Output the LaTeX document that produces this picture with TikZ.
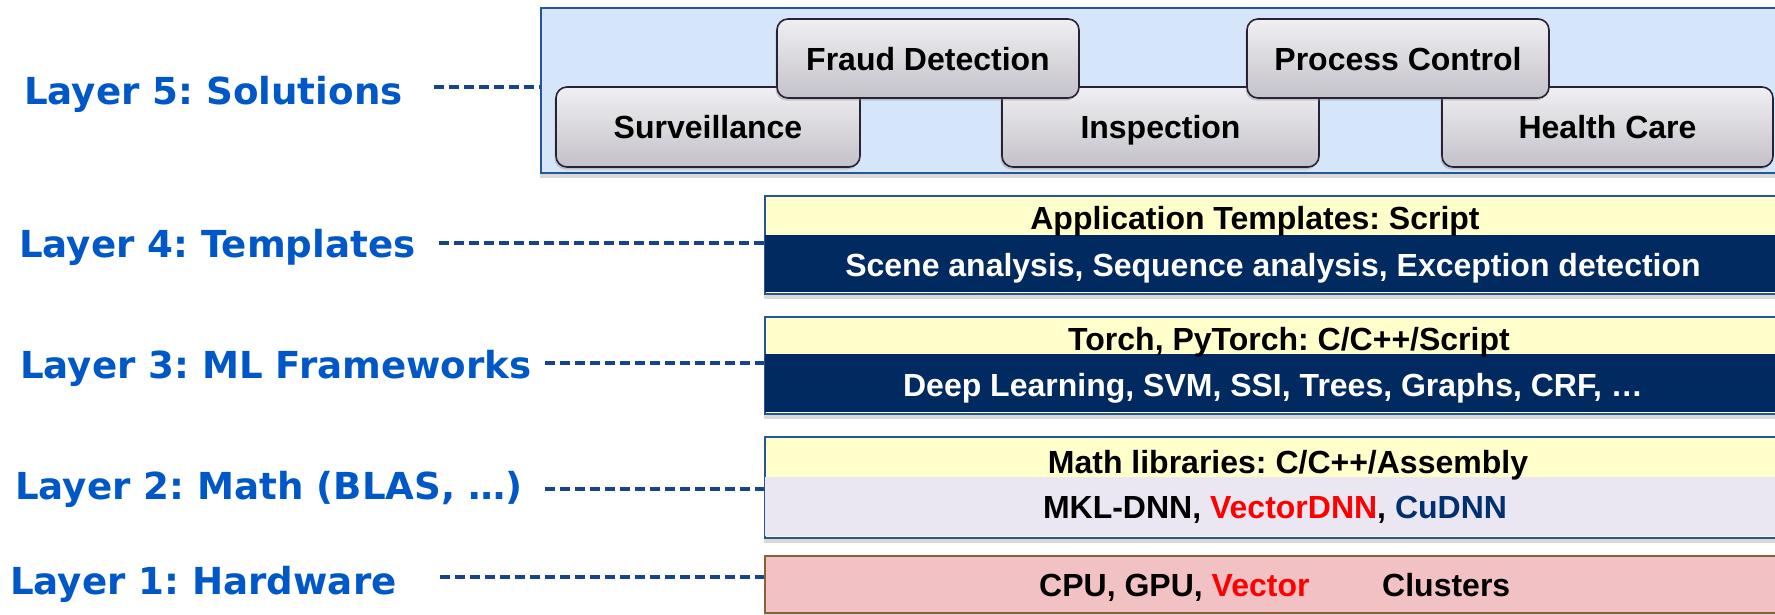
\documentclass[tikz,border=0pt]{standalone}
\usepackage{fontspec}
\setmainfont{Liberation Sans}
\newfontfamily\labfont{DejaVu Sans}
\usetikzlibrary{shadows}
\definecolor{labblue}{RGB}{0,88,200}
\definecolor{dashblue}{RGB}{22,68,140}
\definecolor{sollight}{RGB}{214,230,250}
\definecolor{solborder}{RGB}{43,33,52}
\definecolor{soltop}{RGB}{240,239,242}
\definecolor{solbot}{RGB}{196,194,201}
\definecolor{lyellow}{RGB}{255,255,204}
\definecolor{lnavy}{RGB}{0,42,96}
\definecolor{llav}{RGB}{234,230,242}
\definecolor{lpink}{RGB}{242,193,195}
\definecolor{lbrown}{RGB}{140,95,60}
\definecolor{lborder}{RGB}{40,85,150}
\definecolor{cunavy}{RGB}{0,48,112}
\begin{document}
\frenchspacing
\begin{tikzpicture}[x=1pt,y=-1pt,
  lab/.style={anchor=base west, inner sep=0pt, font=\labfont\bfseries\fontsize{37.2}{42}\selectfont, text=labblue},
  conn/.style={draw=dashblue, line width=3.5pt, dash pattern=on 10pt off 5pt},
  solbox/.style={draw=solborder, line width=1.6pt, rounded corners=11pt, top color=soltop, bottom color=solbot,
    text height=23pt, text depth=0pt, inner sep=0pt, font=\bfseries\fontsize{32}{36}\selectfont,
    drop shadow={shadow xshift=-1.5pt, shadow yshift=-2.5pt, opacity=0.35}},
  lbox/.style={anchor=north west, inner sep=0pt, line width=1.5pt,
    drop shadow={shadow xshift=-1pt, shadow yshift=-5pt, opacity=0.3}},
  ttop/.style={anchor=base, inner sep=0pt, font=\bfseries\fontsize{32}{36}\selectfont},
  tbot/.style={anchor=base, inner sep=0pt, font=\bfseries\fontsize{32}{36}\selectfont},
]
\clip (0,0) rectangle (1775,614);
\useasboundingbox (0,0) rectangle (1775,614);

% Layer 5
\node[lbox, draw=lborder, line width=2pt, fill=sollight, minimum width=1245pt, minimum height=165pt] (box5) at (540,7) {};
\node[solbox, minimum width=304pt, minimum height=80pt] (surv) at (708,127) {Surveillance};
\node[solbox, minimum width=317pt, minimum height=80pt] (insp) at (1160.5,127) {Inspection};
\node[solbox, minimum width=331pt, minimum height=80pt] (health) at (1607.5,127) {Health Care};
\node[solbox, minimum width=302pt, minimum height=79pt] (fraud) at (928,58.5) {Fraud Detection};
\node[solbox, minimum width=302pt, minimum height=79pt] (proc) at (1398,58.5) {Process Control};

% Layer 4
\node[lbox, draw=lborder, fill=lyellow, minimum width=1030pt, minimum height=98pt] (box4) at (764,195) {};
\fill[lnavy] (764.75,235) rectangle (1790,292.25);
\node[ttop] (t4a) at (1255,229) {Application Templates: Script};
\node[tbot, text=white] (t4b) at (1273,276) {Scene analysis, Sequence analysis, Exception detection};

% Layer 3
\node[lbox, draw=lborder, fill=lyellow, minimum width=1030pt, minimum height=97pt] (box3) at (764,316) {};
\fill[lnavy] (764.75,354) rectangle (1790,412.25);
\node[ttop] (t3a) at (1289,350) {Torch, PyTorch: C/C++/Script};
\node[tbot, text=white] (t3b) at (1273,396) {Deep Learning, SVM, SSI, Trees, Graphs, CRF, …};

% Layer 2
\node[lbox, draw=lborder, fill=lyellow, minimum width=1030pt, minimum height=101pt] (box2) at (764,436) {};
\fill[llav] (764.75,477) rectangle (1790,536.25);
\node[ttop] (t2a) at (1288,473) {Math libraries: C/C++/Assembly};
\node[tbot] (t2b) at (1275,518) {MKL-DNN, \textcolor{red}{VectorDNN}, \textcolor{cunavy}{CuDNN}};

% Layer 1
\node[lbox, draw=lbrown, fill=lpink, minimum width=1030pt, minimum height=57pt] (box1) at (764,555) {};
\node[tbot, anchor=base west] (t1a) at (1039,596) {CPU, GPU, \textcolor{red}{Vector}};
\node[tbot, anchor=base west] (t1b) at (1382,596) {Clusters};

% Labels
\node[lab] (lab5) at (24,104) {Layer 5: Solutions};
\node[lab] (lab4) at (19,257) {Layer 4: Templates};
\node[lab] (lab3) at (20,378) {Layer 3: ML Frameworks};
\node[lab] (lab2) at (15,499) {Layer 2: Math (BLAS, …)};
\node[lab] (lab1) at (10,594) {Layer 1: Hardware};

% Connectors
\coordinate (d5) at (434,87);
\coordinate (d4) at (439,243);
\coordinate (d3) at (545,363);
\coordinate (d2) at (545,489);
\coordinate (d1) at (440,577);
\draw[conn] (d5) -- (d5 -| box5.west);
\draw[conn] (d4) -- (d4 -| box4.west);
\draw[conn] (d3) -- (d3 -| box3.west);
\draw[conn] (d2) -- (d2 -| box2.west);
\draw[conn] (d1) -- (d1 -| box1.west);
\end{tikzpicture}
\end{document}
